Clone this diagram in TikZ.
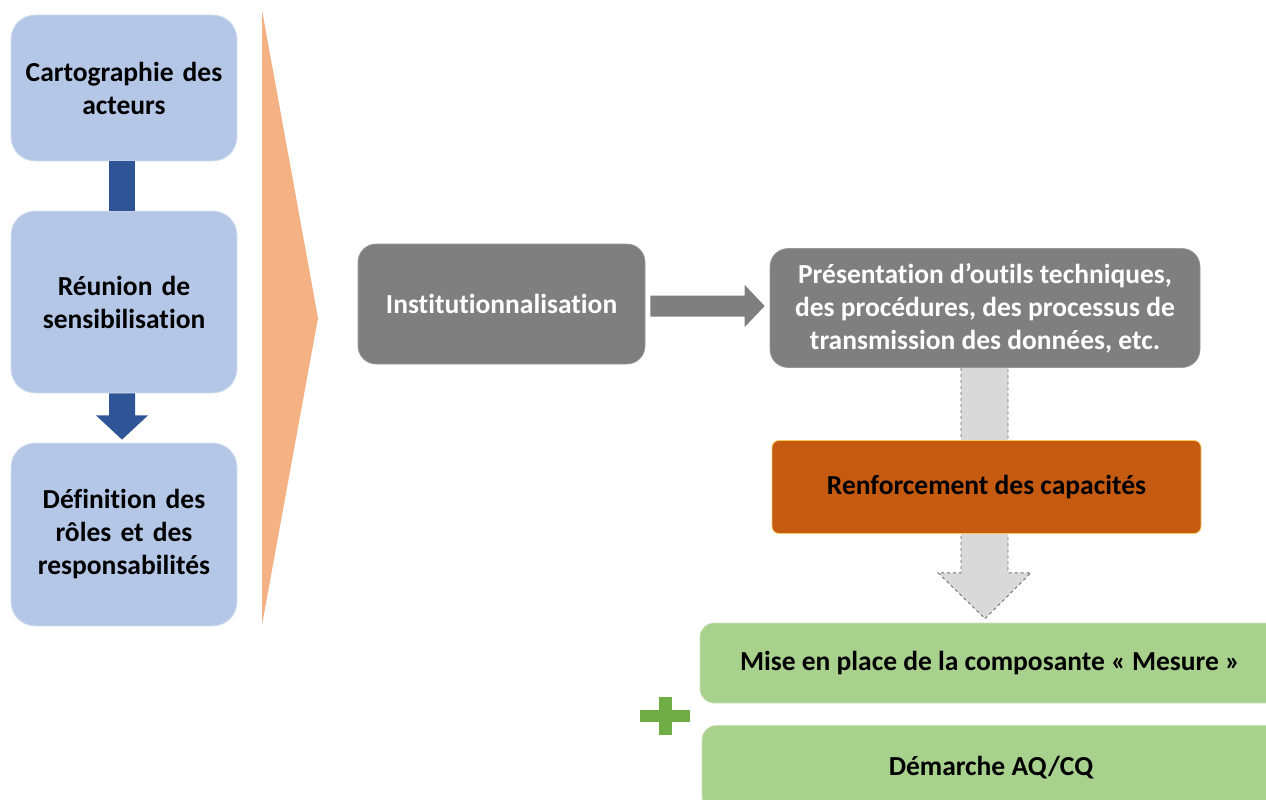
\documentclass[tikz,border=0pt]{standalone}
\usepackage{fontspec}
\setmainfont[Ligatures=NoCommon]{Carlito}
\usetikzlibrary{calc,backgrounds}
\definecolor{lblue}{HTML}{B4C7E7}
\definecolor{dblue}{HTML}{2F5597}
\definecolor{orng}{HTML}{F4B183}
\definecolor{gry}{HTML}{7F7F7F}
\definecolor{lgry}{HTML}{D9D9D9}
\definecolor{dgry}{HTML}{6E6E6E}
\definecolor{rust}{HTML}{C55A11}
\definecolor{grn}{HTML}{A9D18E}
\definecolor{dgrn}{HTML}{70AD47}
\begin{document}
\begin{tikzpicture}[x=1pt,y=-1pt,
  txt/.style={align=center, font=\fontsize{27.5}{33}\selectfont\bfseries, inner sep=0pt},
  leftbox/.style={txt, rectangle, rounded corners=24pt, fill=lblue, draw=lblue!55!white, line width=0.8pt, minimum width=226pt, text width=220pt},
  graybox/.style={txt, rectangle, rounded corners=18pt, fill=gry, text=white, draw=gry!80!white, line width=0.6pt},
  rustbox/.style={txt, rectangle, rounded corners=7pt, fill=rust, draw=orng!70!yellow, line width=0.8pt},
  greenbox/.style={txt, rectangle, rounded corners=14pt, fill=grn, draw=grn!60!white, line width=0.6pt}]
\useasboundingbox (0,0) rectangle (1266,800);
\clip (0,0) rectangle (1266,800);
% left column
\node[leftbox, minimum height=146pt] (c1) at (124,88) {Cartographie des\\acteurs};
\node[leftbox, minimum height=182pt] (c2) at (124,302) {Réunion de\\sensibilisation};
\node[leftbox, minimum height=183pt] (c3) at (124,534.5) {Définition des\\rôles et des\\responsabilités};
\fill[dblue] ($(c1.south)+(-15,0)$) rectangle ($(c2.north)+(11,0)$);
\fill[dblue] ($(c2.south)+(-15,0)$) -- ($(c2.south)+(-15,22)$) -- ($(c2.south)+(-28,22)$)
  -- ($(c3.north)+(-2,-3)$) -- ($(c2.south)+(24,22)$) -- ($(c2.south)+(11,22)$) -- ($(c2.south)+(11,0)$) -- cycle;
% chevron
\fill[orng] (262,10) -- (318,318) -- (262,625) -- cycle;
% right part
\node[graybox, minimum width=287pt, minimum height=120pt] (inst) at (501.5,304) {Institutionnalisation};
\node[graybox, minimum width=430pt, minimum height=119pt] (pres) at (985,308) {Présentation d’outils techniques,\\des procédures, des processus de\\transmission des données, etc.};
\node[rustbox, minimum width=429pt, minimum height=93pt] (renf) at (986.5,487) {Renforcement des capacités};
\node[greenbox, minimum width=580pt, minimum height=80pt] (g1) at (990,663) {Mise en place de la composante « Mesure »};
\node[greenbox, minimum width=578pt, minimum height=85pt] (g2) at (991,768) {Démarche AQ/CQ};
% gray arrow
\coordinate (a1) at ($(inst.east)+(5,2)$);
\coordinate (tip) at ($(pres.west|-a1)+(-5,0)$);
\fill[gry] ($(a1)+(0,-10.5)$) -- ($(tip)+(-20,-10.5)$) -- ($(tip)+(-20,-21)$) -- (tip)
  -- ($(tip)+(-20,21)$) -- ($(tip)+(-20,10.5)$) -- ($(a1)+(0,10.5)$) -- cycle;
% dashed arrow behind
\begin{scope}[on background layer]
\coordinate (s) at (pres.south);
\coordinate (dtip) at ($(g1.north-|s)+(0,-4)$);
\fill[lgry] ($(s)+(-24,0)$) -- ($(s)+(-24,205)$) -- ($(s)+(-47,205)$) -- (dtip)
  -- ($(s)+(46,205)$) -- ($(s)+(23,205)$) -- ($(s)+(23,0)$) -- cycle;
\draw[dgry, dashed, line width=0.9pt] ($(s)+(-24,0)$) -- ($(s)+(-24,205)$) -- ($(s)+(-47,205)$) -- (dtip)
  -- ($(s)+(46,205)$) -- ($(s)+(23,205)$) -- ($(s)+(23,0)$);
\end{scope}
% plus sign
\fill[dgrn] (640,710) rectangle (690,722);
\fill[dgrn] (659,697) rectangle (672,735);
\end{tikzpicture}
\end{document}
